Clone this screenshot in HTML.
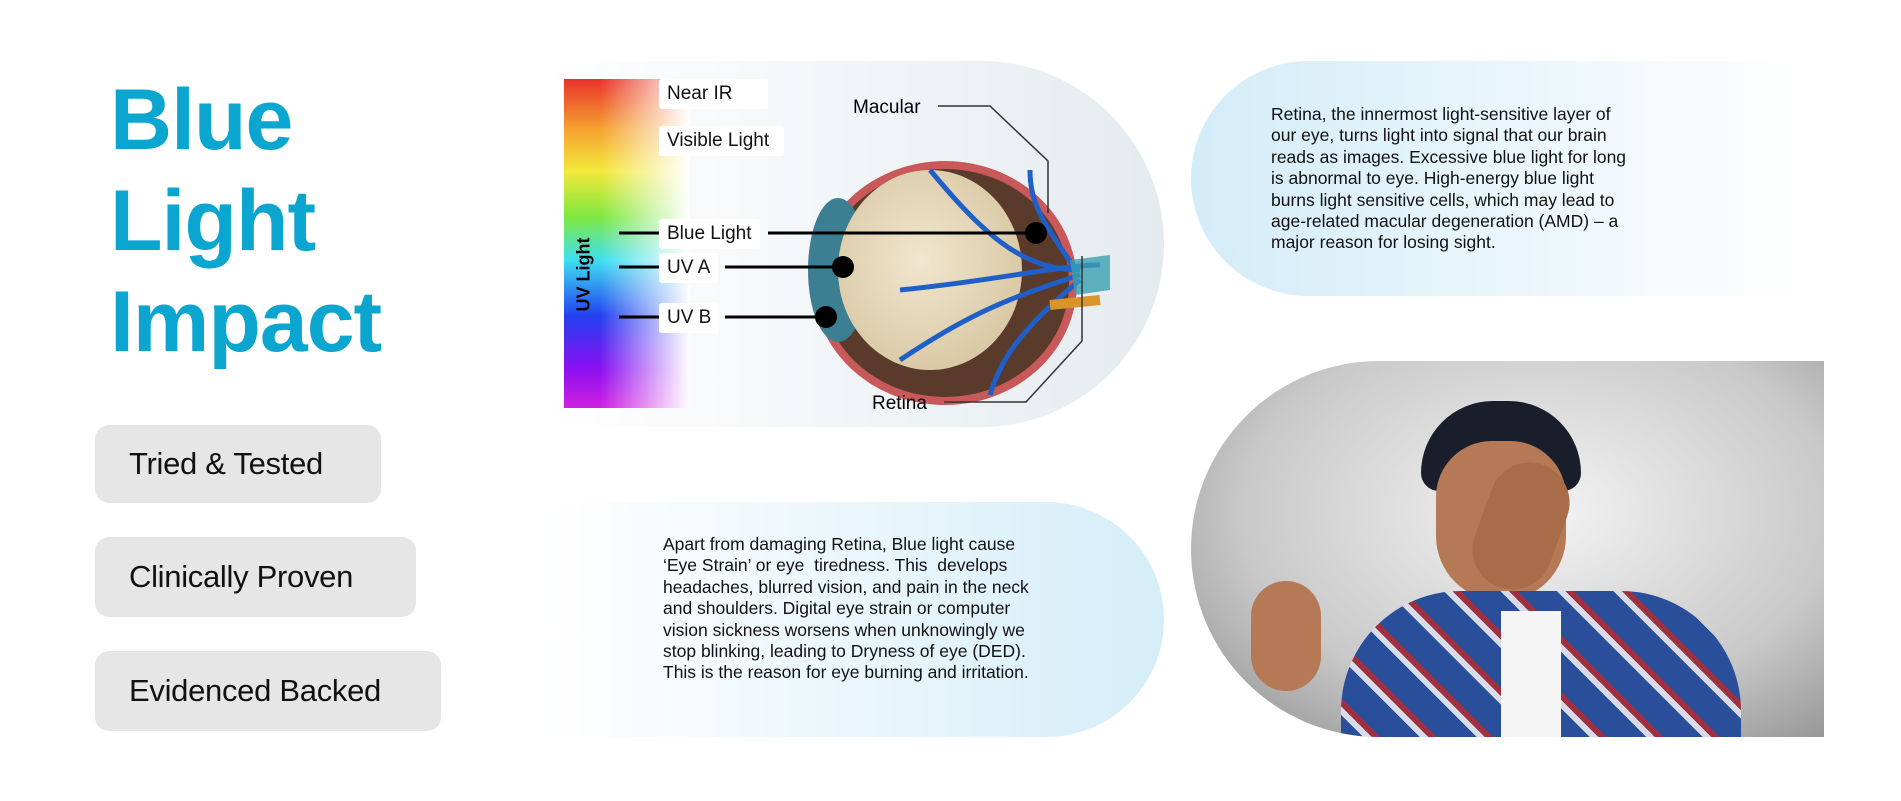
<!DOCTYPE html>
<html><head><meta charset="utf-8"><style>
*{margin:0;padding:0;box-sizing:border-box}
body{width:1901px;height:801px;background:#fff;position:relative;overflow:hidden;font-family:"Liberation Sans",sans-serif}
.a{position:absolute}
.title{left:110px;top:70px;color:#0ba6d0;font-weight:bold;font-size:86px;line-height:101px;letter-spacing:-1px}
.btn{left:95px;background:#e6e6e6;border-radius:14px;font-size:31px;color:#111;padding-left:34px;display:flex;align-items:center;letter-spacing:-0.3px}
.p{font-size:17.5px;line-height:21.4px;color:#111;white-space:nowrap;letter-spacing:0}
.lab{background:#fff;font-size:19px;color:#111;padding:4px 8px;border-radius:3px;white-space:nowrap}
</style></head><body>
<div class="a title">Blue<br>Light<br>Impact</div>
<div class="a btn" style="top:425px;width:286px;height:78px">Tried &amp; Tested</div>
<div class="a btn" style="top:537px;width:321px;height:80px">Clinically Proven</div>
<div class="a btn" style="top:651px;width:346px;height:80px">Evidenced Backed</div>

<div class="a" style="left:546px;top:61px;width:618px;height:366px;border-radius:0 183px 183px 0;background:linear-gradient(90deg,#fff,#e4ebef)"></div>
<div class="a" style="left:1191px;top:61px;width:615px;height:235px;border-radius:118px 0 0 118px;background:linear-gradient(90deg,#d3ecf8,#fff)"></div>
<div class="a" style="left:546px;top:502px;width:618px;height:235px;border-radius:0 118px 118px 0;background:linear-gradient(90deg,#fff,#d5edf8)"></div>

<div class="a" style="left:564px;top:79px;width:125px;height:329px;background:linear-gradient(180deg,#e8322a 0%,#f5a030 15%,#f3e83a 28%,#7ee840 42%,#3ee0f0 55%,#2340f0 72%,#8a10f0 88%,#d020e0 100%)"></div>
<div class="a" style="left:600px;top:79px;width:90px;height:329px;background:linear-gradient(90deg,rgba(255,255,255,0),#fff)"></div>
<div class="a" style="left:539px;top:264px;width:90px;transform:rotate(-90deg);font-weight:bold;font-size:18px;text-align:center;color:#000;white-space:nowrap">UV Light</div>

<svg class="a" style="left:0;top:0" width="1901" height="801">
<defs><radialGradient id="g" cx="0.45" cy="0.45" r="0.6"><stop offset="0" stop-color="#f1e6cf"/><stop offset="1" stop-color="#d8c7a3"/></radialGradient></defs>
<ellipse cx="945" cy="283" rx="132" ry="122" fill="#c8585a"/>
<ellipse cx="945" cy="283" rx="124" ry="114" fill="#5a3a2a"/>
<ellipse cx="838" cy="270" rx="30" ry="72" fill="#3c7f93"/>
<ellipse cx="930" cy="270" rx="92" ry="100" fill="url(#g)"/>
<g stroke="#1f5fc8" stroke-width="5" fill="none">
<path d="M1080 270 C1020 270 980 230 930 170"/><path d="M1080 275 C1000 300 960 320 900 360"/>
<path d="M1080 280 C1020 330 1000 360 990 395"/><path d="M1075 268 C1040 220 1030 200 1030 170"/>
<path d="M1100 265 C1060 265 1000 280 900 290"/></g>
<path d="M1050 305 L1100 300" stroke="#d8962a" stroke-width="10"/>
<path d="M1070 260 L1110 255 L1110 290 L1075 295Z" fill="#3aa0b0" opacity=".8"/>
<g stroke="#000" stroke-width="3" fill="none">
<line x1="619" y1="233" x2="664" y2="233"/><line x1="768" y1="233" x2="1036" y2="233"/>
<line x1="619" y1="267" x2="664" y2="267"/><line x1="725" y1="267" x2="843" y2="267"/>
<line x1="619" y1="317" x2="664" y2="317"/><line x1="725" y1="317" x2="826" y2="317"/>
</g>
<circle cx="1036" cy="233" r="11"/><circle cx="843" cy="267" r="11"/><circle cx="826" cy="317" r="11"/>
<polyline points="938,106 990,106 1048,161 1048,213" stroke="#333" stroke-width="1.5" fill="none"/>
<polyline points="944,402 1026,402 1082,341 1082,256" stroke="#333" stroke-width="1.5" fill="none"/>
<text x="853" y="113" font-family="Liberation Sans" font-size="19">Macular</text>
<text x="872" y="409" font-family="Liberation Sans" font-size="19">Retina</text>
</svg>
<div class="a lab" style="left:659px;top:79px;width:109px">Near IR</div>
<div class="a lab" style="left:659px;top:126px;width:125px">Visible Light</div>
<div class="a lab" style="left:659px;top:219px">Blue Light</div>
<div class="a lab" style="left:659px;top:253px">UV A</div>
<div class="a lab" style="left:659px;top:303px">UV B</div>

<div class="a p" style="left:1271px;top:104px">Retina, the innermost light-sensitive layer of<br>our eye, turns light into signal that our brain<br>reads as images. Excessive blue light for long<br>is abnormal to eye. High-energy blue light<br>burns light sensitive cells, which may lead to<br>age-related macular degeneration (AMD) – a<br>major reason for losing sight.</div>
<div class="a p" style="left:663px;top:534px">Apart from damaging Retina, Blue light cause<br>‘Eye Strain’ or eye&nbsp; tiredness. This&nbsp; develops<br>headaches, blurred vision, and pain in the neck<br>and shoulders. Digital eye strain or computer<br>vision sickness worsens when unknowingly we<br>stop blinking, leading to Dryness of eye (DED).<br>This is the reason for eye burning and irritation.</div>

<div class="a" style="left:1191px;top:361px;width:633px;height:376px;border-radius:190px 0 0 190px;overflow:hidden;background:radial-gradient(ellipse at 55% 40%,#f4f4f4,#c9c9c9 60%,#8a8a8a)">
<div class="a" style="left:230px;top:40px;width:160px;height:90px;border-radius:80px 80px 20px 20px;background:#1a1d2a"></div>
<div class="a" style="left:245px;top:80px;width:130px;height:160px;border-radius:60px 60px 70px 70px;background:#b57a55"></div>
<div class="a" style="left:150px;top:230px;width:400px;height:200px;border-radius:120px 120px 0 0;background:repeating-linear-gradient(45deg,#2a4f9a 0 14px,#d8dbe8 14px 20px,#a03040 20px 26px,#2a4f9a 26px 40px)"></div>
<div class="a" style="left:310px;top:250px;width:60px;height:130px;background:#f5f5f5"></div>
<div class="a" style="left:60px;top:220px;width:70px;height:110px;border-radius:35px;background:#b57a55"></div>
<div class="a" style="left:290px;top:100px;width:80px;height:130px;border-radius:40px;background:#a86c48;transform:rotate(20deg)"></div>
</div>
</body></html>
